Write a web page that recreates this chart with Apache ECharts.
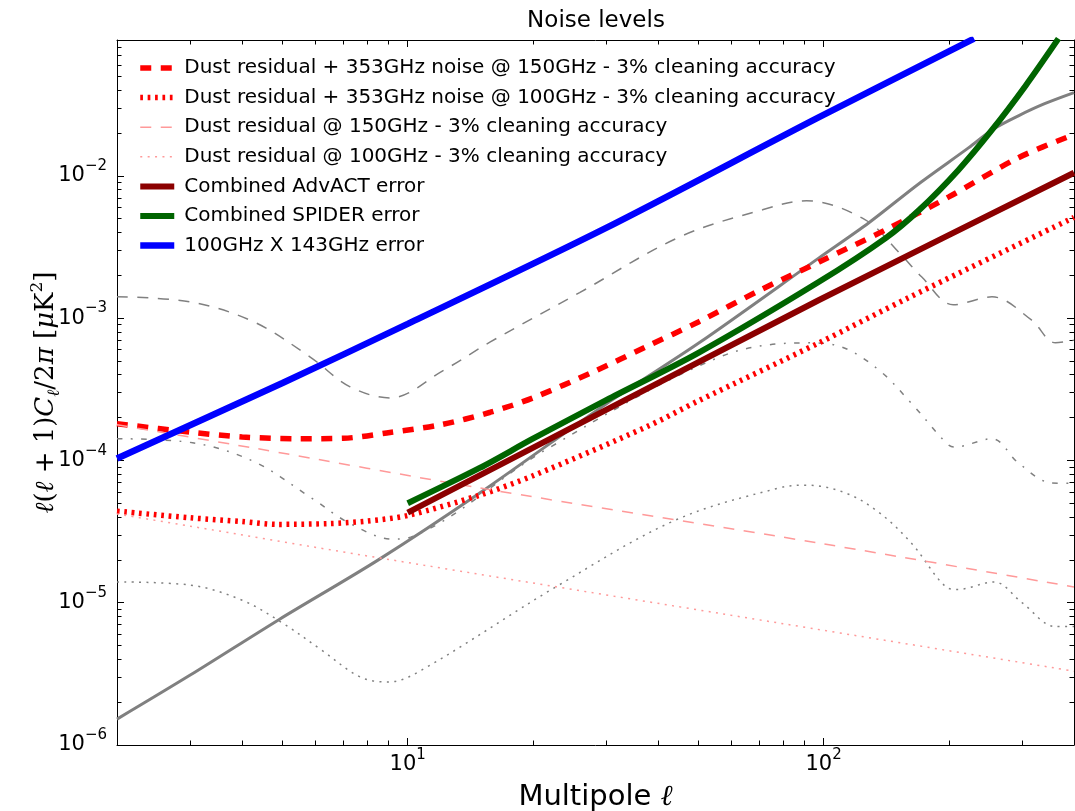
<!DOCTYPE html>
<html>
<head>
<meta charset="utf-8">
<title>Noise levels</title>
<script src="https://cdn.jsdelivr.net/npm/echarts@6/dist/echarts.min.js"></script>
<style>
  html, body { margin: 0; padding: 0; background: #fff; }
  #chart { width: 1075px; height: 811px; }
</style>
</head>
<body>
<div id="chart"></div>
<script>
// axis ranges and ticks
const xRange = [2, 400]
const yRange = [1e-6, 0.09]
const xMajor = [10, 100]
const xMinor = [2, 3, 4, 5, 6, 7, 8, 9, 20, 30, 40, 50, 60, 70, 80, 90, 200, 300, 400]
const yMajor = [1e-6, 1e-5, 1e-4, 1e-3, 1e-2]
const yMinor = [
  2e-6, 3e-6, 4e-6, 5e-6, 6e-6, 7e-6, 8e-6, 9e-6,
  2e-5, 3e-5, 4e-5, 5e-5, 6e-5, 7e-5, 8e-5, 9e-5,
  2e-4, 3e-4, 4e-4, 5e-4, 6e-4, 7e-4, 8e-4, 9e-4,
  2e-3, 3e-3, 4e-3, 5e-3, 6e-3, 7e-3, 8e-3, 9e-3,
  2e-2, 3e-2, 4e-2, 5e-2, 6e-2, 7e-2, 8e-2, 9e-2
]

// legend names
const names = [
  'Dust residual + 353GHz noise @ 150GHz - 3% cleaning accuracy',
  'Dust residual + 353GHz noise @ 100GHz - 3% cleaning accuracy',
  'Dust residual @ 150GHz - 3% cleaning accuracy',
  'Dust residual @ 100GHz - 3% cleaning accuracy',
  'Combined AdvACT error',
  'Combined SPIDER error',
  '100GHz X 143GHz error'
]

// dust residual + 353GHz noise @150
const ellNoise150 = [2, 3, 4, 5.5, 7, 8.9, 12, 15.8, 20, 28, 37.5, 50, 70, 97.5, 141, 200, 294, 400]
const valNoise150 = [1.81e-4, 1.58e-4, 1.46e-4, 1.42e-4, 1.43e-4, 1.56e-4, 1.78e-4, 2.18e-4, 2.75e-4, 4.2e-4, 6.3e-4, 9.4e-4, 1.56e-3, 2.48e-3, 4.17e-3, 7.1e-3, 1.34e-2, 1.95e-2]

// dust residual + 353GHz noise @100
const ellNoise100 = [2, 3, 4, 4.86, 6.5, 8, 10, 14.9, 20, 37.5, 50, 97.5, 160, 400]
const valNoise100 = [4.4e-5, 3.95e-5, 3.72e-5, 3.55e-5, 3.6e-5, 3.75e-5, 4.1e-5, 5.7e-5, 7.8e-5, 1.72e-4, 2.62e-4, 6.7e-4, 1.39e-3, 5.1e-3]

// dust residual only
const ellDust150 = [2, 4.27, 14.9, 100, 400]
const valDust150 = [1.78e-4, 1.22e-4, 6.4e-5, 2.59e-5, 1.29e-5]
const ellDust100 = [2, 3, 7.7, 78, 361, 400]
const valDust100 = [4.2e-5, 3.45e-5, 2.17e-5, 7.2e-6, 3.47e-6, 3.3e-6]

// experiments
const ellAdvact = [10, 97.5, 400]
const valAdvact = [4.3e-5, 1.34e-3, 1.05e-2]
const ellSpider = [10, 14.9, 20, 30, 50, 97.5, 141, 170, 211, 254, 306, 367]
const valSpider = [5.0e-5, 8.85e-5, 1.42e-4, 2.65e-4, 5.7e-4, 1.8e-3, 3.65e-3, 5.77e-3, 1.1e-2, 2.1e-2, 4.3e-2, 9.2e-2]
const ellPlanck = [2, 5, 10, 30, 97, 230]
const valPlanck = [1.03e-4, 3.5e-4, 9.1e-4, 4.3e-3, 2.56e-2, 9.2e-2]

// gray reference curves
const ellLens = [2, 3, 4.9, 8.5, 14.9, 30, 50.2, 97.5, 128.5, 169.5, 223, 256, 294, 340, 400]
const valLens = [1.52e-6, 3.1e-6, 7.6e-6, 2.0e-5, 5.9e-5, 2.49e-4, 6.7e-4, 2.65e-3, 4.68e-3, 8.8e-3, 1.57e-2, 2.13e-2, 2.64e-2, 3.21e-2, 3.84e-2]
const ellGrayDash = [2, 3, 4.27, 5.84, 7.27, 9.07, 12.2, 15.8, 25.9, 45.1, 71.3, 91, 126, 152, 172, 205, 254, 316, 361, 400]
const valGrayDash = [1.41e-3, 1.30e-3, 9.4e-4, 5.3e-4, 3.29e-4, 2.75e-4, 4.3e-4, 6.8e-4, 1.51e-3, 3.72e-3, 5.77e-3, 6.67e-3, 4.9e-3, 2.88e-3, 1.95e-3, 1.24e-3, 1.41e-3, 9.7e-4, 6.7e-4, 7.0e-4]
const ellGrayDashDot = [2, 3.04, 4.27, 5.84, 7.27, 9.2, 10.2, 21.5, 56, 91, 110, 136, 163, 197, 206, 254, 294, 353, 400]
const valGrayDashDot = [1.42e-4, 1.33e-4, 9.8e-5, 5.5e-5, 3.6e-5, 2.8e-5, 2.9e-5, 1.19e-4, 5.3e-4, 6.7e-4, 6.3e-4, 4.3e-4, 2.5e-4, 1.33e-4, 1.24e-4, 1.42e-4, 9.6e-5, 6.95e-5, 6.9e-5]
const ellGrayDot = [2, 3, 4, 5, 6.2, 7.7, 9, 10.8, 22.7, 44, 78, 91, 113, 136, 163, 197, 210, 257, 300, 361, 400]
const valGrayDot = [1.4e-5, 1.33e-5, 1.04e-5, 7.2e-6, 4.66e-6, 3.0e-6, 2.77e-6, 3.36e-6, 1.29e-5, 3.8e-5, 6.4e-5, 6.7e-5, 5.9e-5, 4.3e-5, 2.6e-5, 1.29e-5, 1.24e-5, 1.4e-5, 1.0e-5, 6.8e-6, 6.8e-6]

const pairs = (xs, ys) => xs.map((x, i) => [x, ys[i]])

const chart = echarts.init(document.getElementById('chart'))

const FONT = 'DejaVu Sans'
const dashed = [11, 9.5]
const dotted = [2, 5.4]
const thickDotted = [2.7, 4.7]
const dashDot = [5.5, 8.5, 1.8, 8.5]

// 10^n tick labels
const powLabel = v => {
  const e = Math.round(Math.log10(v))
  return '{b|10}{s|' + String(e).replace('-', '\u2212') + '}'
}
const labelRich = {
  b: { fontFamily: FONT, fontSize: 21, color: '#000', lineHeight: 34, verticalAlign: 'middle' },
  s: { fontFamily: FONT, fontSize: 15, color: '#000', lineHeight: 12, verticalAlign: 'top' }
}

// one log axis: either spine + major ticks, or minor ticks only
const makeAxis = (range, position, ticks, major, extra) => Object.assign({
  type: 'log',
  logBase: 10,
  min: range[0],
  max: range[1],
  position: position,
  axisLine: { show: major, lineStyle: { color: '#000', width: 1 } },
  axisTick: { show: true, inside: true, length: major ? 7 : 4.5, customValues: ticks, lineStyle: { color: '#000', width: 1 } },
  axisLabel: { show: false },
  splitLine: { show: false },
  minorTick: { show: false },
  minorSplitLine: { show: false },
  axisPointer: { show: false }
}, extra || {})

const lineSeries = (name, xs, ys, color, width, type, smooth) => ({
  name: name,
  type: 'line',
  data: pairs(xs, ys),
  showSymbol: false,
  symbol: 'none',
  smooth: smooth,
  clip: true,
  silent: true,
  lineStyle: { color: color, width: width, type: type, cap: 'butt' },
  itemStyle: { color: color }
})

const option = {
  animation: false,
  backgroundColor: '#fff',
  title: {
    text: 'Noise levels',
    left: 596,
    top: 10,
    textAlign: 'center',
    padding: 0,
    textStyle: { fontFamily: FONT, fontSize: 23, fontWeight: 'normal', color: '#000' }
  },
  legend: {
    data: names,
    orient: 'vertical',
    left: 137,
    top: 58,
    padding: 0,
    itemWidth: 34,
    itemHeight: 14,
    itemGap: 9.6,
    selectedMode: false,
    lineStyle: { width: 'inherit' },
    // hide the marker dot, keep the line sample
    itemStyle: { opacity: 0 },
    formatter: name => '{t|' + name + '}',
    textStyle: {
      fontFamily: FONT, fontSize: 20, color: '#000', lineHeight: 20,
      rich: { t: { fontFamily: FONT, fontSize: 20, color: '#000', lineHeight: 20, padding: [0, 0, 0, 5] } }
    }
  },
  grid: { left: 117, right: 1, top: 40, bottom: 66, containLabel: false, outerBoundsMode: 'none' },
  xAxis: [
    makeAxis(xRange, 'bottom', xMajor, true, {
      axisLabel: { show: true, customValues: xMajor, formatter: powLabel, margin: 3, rich: labelRich },
      name: 'Multipole {i|ℓ}',
      nameLocation: 'middle',
      nameGap: 38,
      nameMoveOverlap: false,
      nameTextStyle: {
        fontFamily: FONT, fontSize: 29, color: '#000',
        rich: { i: { fontFamily: 'DejaVu Serif', fontStyle: 'italic', fontSize: 29, color: '#000' } }
      }
    }),
    makeAxis(xRange, 'bottom', xMinor, false),
    makeAxis(xRange, 'top', xMajor, true),
    makeAxis(xRange, 'top', xMinor, false)
  ],
  yAxis: [
    makeAxis(yRange, 'left', yMajor, true, {
      axisLabel: { show: true, customValues: yMajor, formatter: powLabel, margin: 10, rich: labelRich },
      name: '{i|ℓ}({i|ℓ} + 1){i|C}{d|ℓ}/2{i|π} [{i|μ}K{u|2}]',
      nameLocation: 'middle',
      nameRotate: 90,
      nameGap: 54,
      nameMoveOverlap: false,
      nameTextStyle: {
        fontFamily: 'DejaVu Serif', fontSize: 26, color: '#000', lineHeight: 34,
        rich: {
          i: { fontFamily: 'DejaVu Serif', fontStyle: 'italic', fontSize: 26, color: '#000', lineHeight: 34 },
          d: { fontFamily: 'DejaVu Serif', fontStyle: 'italic', fontSize: 17, color: '#000', lineHeight: 16, verticalAlign: 'bottom' },
          u: { fontFamily: 'DejaVu Serif', fontSize: 17, color: '#000', lineHeight: 16, verticalAlign: 'top' }
        }
      }
    }),
    makeAxis(yRange, 'left', yMinor, false),
    makeAxis(yRange, 'right', yMajor, true),
    makeAxis(yRange, 'right', yMinor, false)
  ],
  series: [
    lineSeries('lensing', ellLens, valLens, '#808080', 3, 'solid', 0.3),
    lineSeries('gray dashed', ellGrayDash, valGrayDash, '#808080', 1.5, dashed, 0.35),
    lineSeries('gray dashdot', ellGrayDashDot, valGrayDashDot, '#808080', 1.5, dashDot, 0.35),
    lineSeries('gray dotted', ellGrayDot, valGrayDot, '#808080', 1.5, dotted, 0.35),
    lineSeries(names[0], ellNoise150, valNoise150, '#ff0000', 5.5, dashed, 0.3),
    lineSeries(names[1], ellNoise100, valNoise100, '#ff0000', 5.5, thickDotted, 0.3),
    lineSeries(names[2], ellDust150, valDust150, '#ff9999', 1.5, dashed, 0.3),
    lineSeries(names[3], ellDust100, valDust100, '#ff9999', 1.5, dotted, 0.3),
    lineSeries(names[4], ellAdvact, valAdvact, '#8b0000', 6, 'solid', 0.2),
    lineSeries(names[5], ellSpider, valSpider, '#006400', 6, 'solid', 0.3),
    lineSeries(names[6], ellPlanck, valPlanck, '#0000ff', 6.5, 'solid', 0.3)
  ]
}

chart.setOption(option)
</script>
</body>
</html>
